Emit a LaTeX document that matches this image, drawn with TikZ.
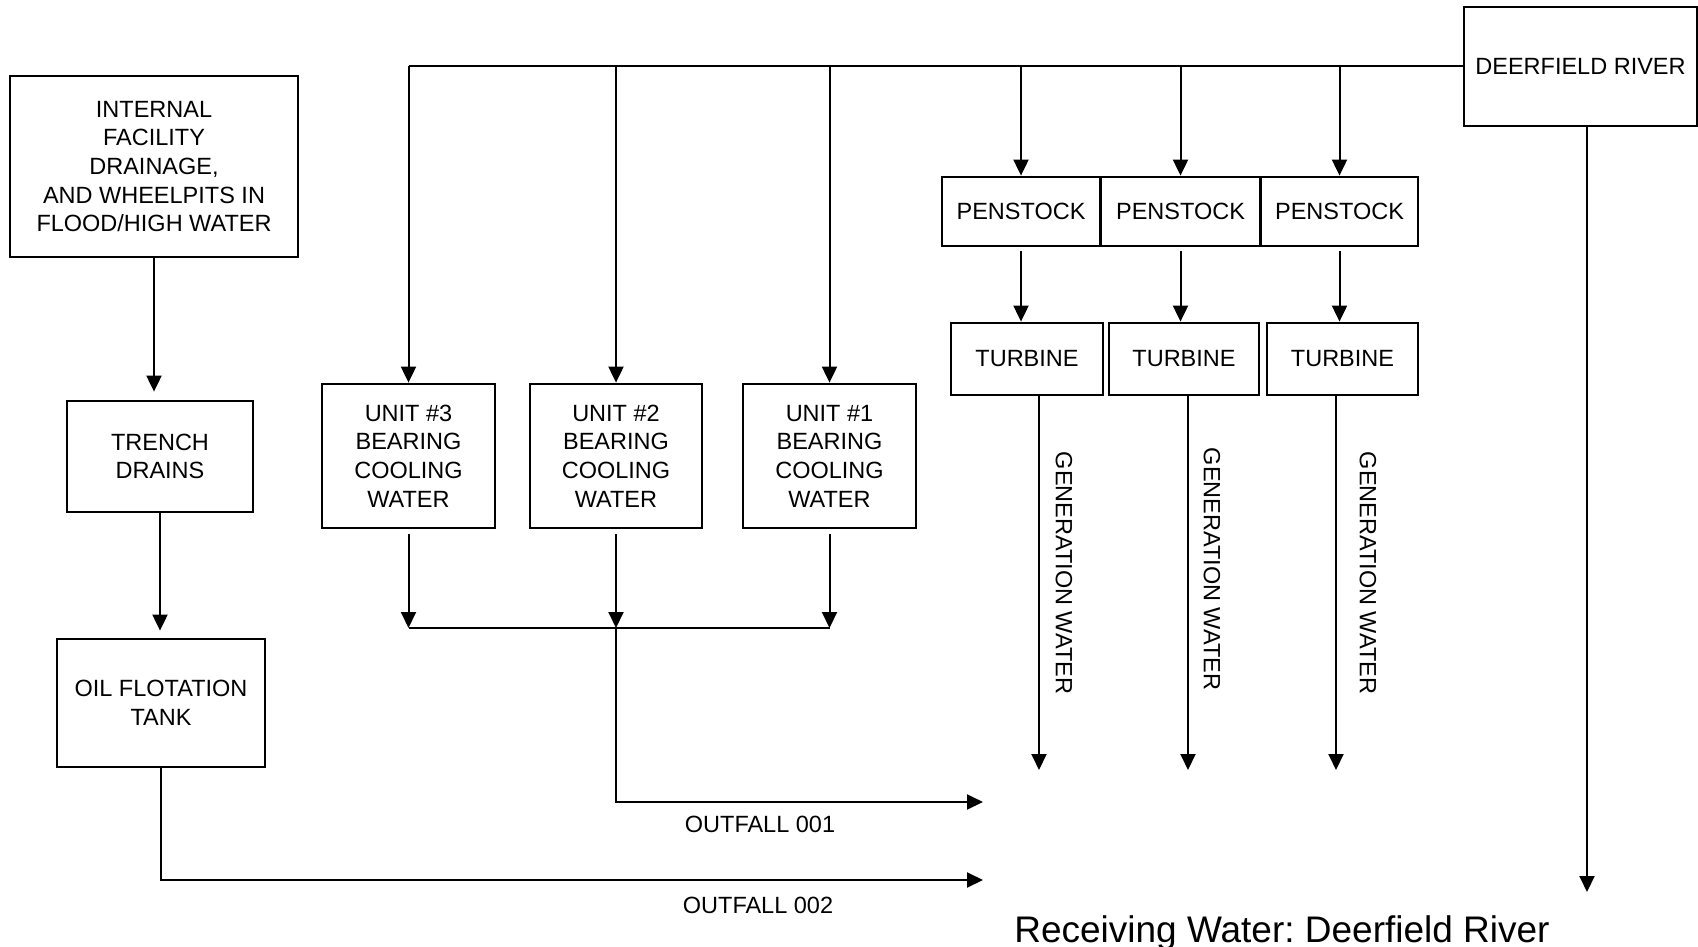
\documentclass[tikz,border=0pt]{standalone}
\usepackage{fontspec}
\setmainfont{Liberation Sans}
\usetikzlibrary{arrows.meta}
\frenchspacing

\begin{document}
\begin{tikzpicture}[x=1pt, y=-1pt,
    font=\fontsize{23.5}{28.7}\selectfont,
    caja/.style={draw, line width=2.8pt, align=center, inner sep=0pt},
    linea/.style={line width=2pt},
    flecha/.style={linea, -{Triangle[length=16pt,width=15pt]}}]
    \useasboundingbox (0,0) rectangle (1698,947);

    % Drenaje interno (izquierda)
    \node[caja, minimum width=288pt, minimum height=181pt] (internal) at (154,166.5)
        {INTERNAL\\FACILITY\\DRAINAGE,\\AND WHEELPITS IN\\FLOOD/HIGH WATER};
    \node[caja, minimum width=186pt, minimum height=111pt] (trench) at (160,456.5) {TRENCH\\DRAINS};
    \node[caja, minimum width=208pt, minimum height=128pt] (oil) at (161,703) {OIL FLOTATION\\TANK};

    % Agua de refrigeracion
    \node[caja, minimum width=173pt, minimum height=144pt] (unit3) at (408.5,456) {UNIT \#3\\BEARING\\COOLING\\WATER};
    \node[caja, minimum width=172pt, minimum height=144pt] (unit2) at (616,456) {UNIT \#2\\BEARING\\COOLING\\WATER};
    \node[caja, minimum width=173pt, minimum height=144pt] (unit1) at (829.5,456) {UNIT \#1\\BEARING\\COOLING\\WATER};

    % Tuberias forzadas y turbinas
    \node[caja, minimum width=158pt, minimum height=69pt] (pen1) at (1021,211.5) {PENSTOCK};
    \node[caja, minimum width=159pt, minimum height=69pt] (pen2) at (1180.5,211.5) {PENSTOCK};
    \node[caja, minimum width=157pt, minimum height=69pt] (pen3) at (1339.5,211.5) {PENSTOCK};
    \node[caja, minimum width=152pt, minimum height=72pt] (turb1) at (1027,359) {TURBINE};
    \node[caja, minimum width=150pt, minimum height=72pt] (turb2) at (1184,359) {TURBINE};
    \node[caja, minimum width=151pt, minimum height=72pt] (turb3) at (1342.5,359) {TURBINE};

    % Rio
    \node[caja, minimum width=233pt, minimum height=119pt] (deer) at (1580.5,66.5) {DEERFIELD RIVER};

    % Drenajes
    \draw[flecha, shorten >=8pt] (internal.south) -- (internal.south |- trench.north);
    \draw[flecha, shorten >=7pt] (trench.south) -- (trench.south |- oil.north);
    \coordinate (out2) at (983,880);
    \draw[flecha] (oil.south) |- (out2);

    % Toma del rio
    \draw[linea] (unit3.north |- deer.west) -- (deer.west);
    \foreach \n in {unit3,unit2,unit1,pen1,pen2,pen3}
        \draw[flecha] (\n.north |- deer.west) -- (\n.north);
    \foreach \i in {1,2,3}
        \draw[flecha] ([yshift=-4pt]pen\i.south) -- (pen\i.south |- turb\i.north);

    % Salida 001
    \coordinate (join) at (616,628);
    \coordinate (out1) at (983,802);
    \foreach \n in {unit3,unit2,unit1}
        \draw[flecha] ([yshift=-5pt]\n.south) -- (\n.south |- join);
    \draw[linea] (unit3.south |- join) -- (unit1.south |- join);
    \draw[flecha] (join) |- (out1);

    % Agua de generacion
    \foreach \i/\x in {1/1039,2/1188,3/1336} {
        \coordinate (g\i) at (\x,770);
        \draw[flecha] (turb\i.south -| g\i) -- (g\i);
    }
    \node[rotate=-90] (gen1) at (1064,573) {GENERATION WATER};
    \node[rotate=-90] (gen2) at (1212,569) {GENERATION WATER};
    \node[rotate=-90] (gen3) at (1368,573) {GENERATION WATER};

    \coordinate (rio) at (1587,892);
    \draw[flecha] (deer.south -| rio) -- (rio);

    % Etiquetas
    \node (of1) at (760,824) {OUTFALL 001};
    \node (of2) at (758,905) {OUTFALL 002};
    \node[font=\fontsize{37}{44}\selectfont, anchor=base] (recv) at (1282,942) {Receiving Water: Deerfield River};
\end{tikzpicture}
\end{document}
